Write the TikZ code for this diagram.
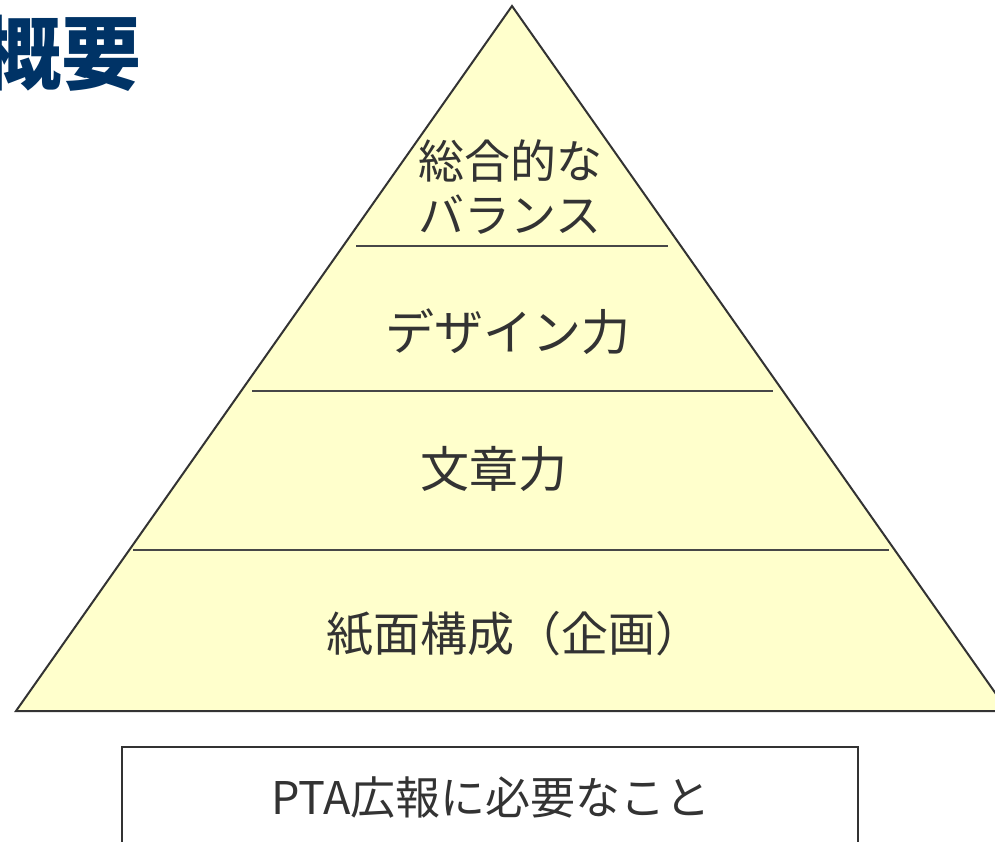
\documentclass[tikz,border=0pt]{standalone}
\usepackage{fontspec}
\newfontfamily\jp{Noto Sans CJK JP}
\definecolor{pyrfill}{HTML}{FFFFCC}
\definecolor{ink}{HTML}{333333}
\definecolor{navy}{HTML}{003366}
\begin{document}
\begin{tikzpicture}[x=1pt,y=-1pt,
  layer/.style={draw=ink!90, line width=1.5pt},
  lbl/.style={text=ink, font=\jp\fontsize{49}{56}\selectfont, align=center, inner sep=0pt},
  boxlbl/.style={text=ink, font=\jp\fontsize{45}{50}\selectfont, inner sep=0pt}]
\useasboundingbox (0,0) rectangle (995,841);
\begin{scope}
\clip (0,0) rectangle (995,841);
\coordinate (apex) at (512,6);
\coordinate (bl) at (16,711);
\coordinate (br) at (1008,711);
\filldraw[fill=pyrfill, draw=ink, line width=2pt, line join=miter] (apex) -- (br) -- (bl) -- cycle;
\coordinate (l1a) at (356,246); \coordinate (l1b) at (668,246);
\coordinate (l2a) at (252,391); \coordinate (l2b) at (773,391);
\coordinate (l3a) at (133,550); \coordinate (l3b) at (889,550);
\draw[layer] (l1a) -- (l1b);
\draw[layer] (l2a) -- (l2b);
\draw[layer] (l3a) -- (l3b);
\node[lbl, font=\jp\fontsize{46}{54}\selectfont] (t1) at (510,187) {総合的な\\バランス};
\node[lbl] (t2) at (508,332) {デザイン力};
\node[lbl] (t3) at (494,469) {文章力};
\node[lbl, font=\jp\fontsize{47}{56}\selectfont] (t4) at (514,634) {紙面構成（企画）};
\draw[draw=ink, line width=2pt] (122,900) -- (122,747) -- (858,747) -- (858,900);
\node[boxlbl] (t5) at (491,797) {PTA広報に必要なこと};
\node[text=navy, font=\jp\bfseries\fontsize{80}{90}\selectfont, anchor=east, inner sep=0pt] (title) at (142,53) {概要};
\end{scope}
\end{tikzpicture}
\end{document}
